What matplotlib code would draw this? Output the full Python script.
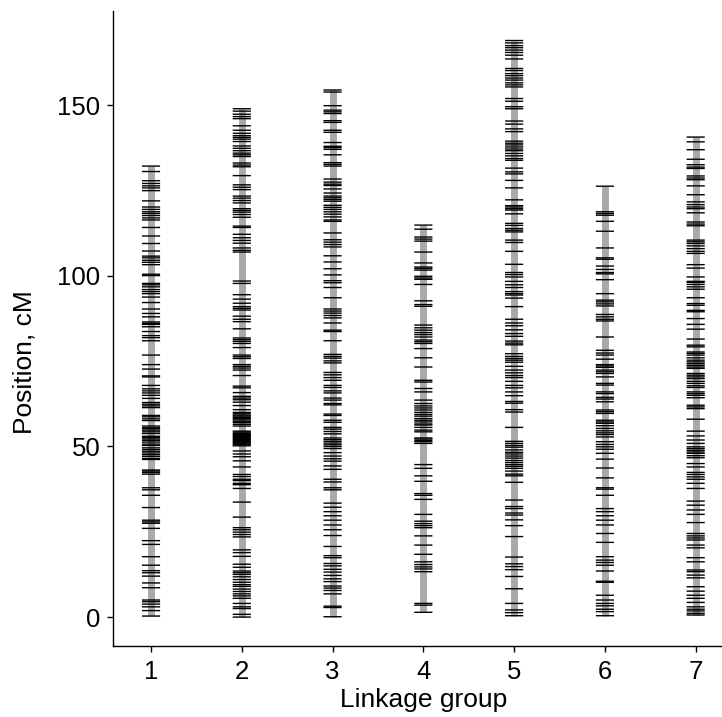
import matplotlib.pyplot as plt

plt.rcParams["font.family"] = ["Liberation Sans", "DejaVu Sans"]

GROUPS = [1, 2, 3, 4, 5, 6, 7]

# Marker positions (cM) on each linkage group
# fmt: off
LG1 = [
    132.2, 130.6, 127.9, 127.1, 126.4, 125.8, 125.0, 122.0, 120.2, 119.5, 118.8, 118.3,
    117.7, 117.0, 116.4, 114.2, 111.7, 109.5, 107.3, 105.8, 105.3, 104.6, 104.0, 103.3,
    100.5, 100.1, 97.8, 97.4, 96.8, 96.0, 95.4, 94.8, 93.8, 92.2, 90.3, 89.0, 88.0, 86.5,
    86.1, 85.8, 85.1, 83.7, 82.5, 81.9, 81.0, 76.8, 74.0, 72.7, 70.7, 70.4, 67.9, 66.9,
    66.3, 65.7, 65.0, 64.1, 62.9, 62.4, 61.9, 61.4, 59.1, 58.7, 58.1, 57.6, 56.0, 55.5,
    55.2, 54.8, 54.3, 53.8, 53.0, 52.6, 52.2, 51.8, 51.3, 50.7, 50.3, 49.6, 49.1, 48.6,
    48.1, 47.6, 47.1, 46.5, 46.2, 43.1, 42.8, 42.4, 41.9, 37.9, 37.3, 35.7, 32.1, 28.4,
    27.9, 27.5, 26.0, 22.4, 21.3, 17.7, 15.2, 13.6, 13.0, 12.0, 10.0, 8.6, 5.0, 4.5,
    3.8, 3.0, 1.9, 0.3,
]
LG2 = [
    149.0, 148.3, 147.4, 146.7, 146.1, 144.0, 142.7, 141.8, 141.1, 140.6, 140.1, 139.4,
    138.1, 137.4, 136.7, 136.0, 135.5, 135.0, 133.1, 132.5, 132.0, 129.4, 126.7, 126.0,
    125.3, 123.4, 122.8, 122.1, 121.4, 119.7, 119.2, 118.7, 118.0, 117.2, 114.6, 114.2,
    112.2, 111.2, 110.4, 109.6, 108.2, 107.5, 107.0, 98.5, 97.8, 94.5, 93.2, 92.0, 91.0,
    90.5, 90.0, 88.2, 87.3, 86.6, 84.5, 81.8, 81.3, 80.8, 80.2, 79.0, 76.8, 76.3, 75.8,
    74.0, 73.5, 73.0, 72.4, 70.8, 67.7, 67.2, 65.8, 64.7, 64.2, 63.7, 63.0, 62.0, 60.8,
    60.0, 59.6, 59.2, 58.9, 58.5, 58.2, 57.8, 57.4, 57.0, 56.5, 56.0, 54.5, 54.2, 53.8,
    53.5, 53.2, 52.9, 52.6, 52.3, 52.0, 51.7, 51.4, 51.1, 50.8, 50.5, 50.2, 48.7, 47.8,
    47.0, 45.8, 44.0, 41.8, 41.2, 40.4, 40.0, 39.2, 38.8, 37.7, 33.7, 29.3, 26.2, 25.6,
    24.9, 24.2, 23.5, 19.7, 18.9, 17.8, 15.5, 14.6, 13.5, 13.0, 12.5, 11.8, 11.0, 10.2,
    9.5, 9.0, 8.2, 7.5, 6.8, 6.2, 5.5, 4.0, 3.0, 2.5, 0.8, 0.0,
]
LG3 = [
    154.5, 153.9, 149.9, 148.6, 148.1, 147.6, 145.5, 145.0, 142.7, 142.1, 139.1, 138.0,
    137.6, 137.1, 135.5, 133.2, 132.7, 132.2, 128.4, 127.5, 126.9, 126.5, 125.5, 124.3,
    123.4, 122.9, 122.4, 121.9, 120.7, 120.1, 119.5, 118.8, 118.1, 117.3, 116.4, 116.0,
    112.6, 110.6, 109.9, 109.2, 108.5, 105.9, 104.1, 102.1, 100.3, 98.6, 98.0, 96.6,
    93.6, 90.3, 89.7, 89.1, 88.4, 87.7, 86.2, 84.1, 83.7, 81.0, 77.0, 76.4, 75.9, 75.1,
    74.5, 71.7, 71.0, 70.2, 69.4, 67.9, 67.3, 66.3, 65.7, 64.2, 63.6, 62.6, 62.2, 59.5,
    59.1, 57.7, 57.1, 55.6, 55.1, 54.4, 53.7, 52.5, 52.0, 51.5, 51.0, 50.5, 50.0, 49.4,
    48.2, 47.2, 46.4, 45.7, 44.3, 43.3, 40.4, 39.6, 37.9, 37.3, 33.4, 32.2, 30.9, 29.7,
    28.4, 27.0, 25.6, 23.9, 20.7, 18.0, 17.4, 15.7, 15.0, 14.0, 13.2, 12.2, 11.2, 10.4,
    9.1, 8.5, 7.8, 6.8, 3.2, 2.8, 0.1,
]
LG4 = [
    114.9, 113.7, 111.4, 110.8, 110.2, 107.0, 103.8, 102.6, 102.2, 101.7, 99.9, 99.4,
    99.0, 97.5, 92.7, 91.6, 91.1, 85.6, 84.8, 84.1, 83.4, 82.8, 82.1, 81.2, 80.7, 80.2,
    78.7, 76.0, 73.3, 69.4, 68.9, 67.0, 66.0, 63.6, 62.6, 61.9, 61.3, 60.7, 60.0, 59.4,
    58.9, 58.2, 57.7, 57.2, 56.6, 56.3, 55.6, 54.8, 54.3, 52.5, 52.2, 51.8, 51.4, 50.9,
    44.7, 43.6, 41.4, 39.8, 36.2, 35.7, 34.5, 30.1, 28.1, 27.4, 26.8, 26.2, 23.8, 21.1,
    18.4, 16.2, 15.4, 14.7, 14.1, 13.3, 4.0, 3.5, 1.4,
]
LG5 = [
    169.0, 168.3, 167.5, 166.9, 166.2, 165.5, 164.7, 163.6, 160.8, 160.2, 159.3, 158.7,
    158.0, 157.4, 156.6, 156.0, 155.4, 152.0, 151.2, 149.6, 149.0, 145.4, 144.5, 143.1,
    142.3, 139.5, 138.9, 138.4, 137.8, 137.2, 136.7, 135.9, 135.2, 134.4, 133.9, 131.6,
    130.5, 129.9, 128.0, 125.8, 122.3, 120.6, 120.2, 119.7, 119.3, 118.2, 115.4, 114.8,
    113.9, 113.4, 112.9, 110.5, 109.8, 107.2, 103.4, 101.0, 100.4, 99.7, 98.4, 97.4,
    96.6, 95.4, 94.8, 94.4, 93.5, 91.0, 87.3, 86.2, 85.4, 84.2, 83.1, 82.3, 80.9, 80.3,
    79.8, 77.2, 76.4, 75.8, 75.3, 74.7, 73.5, 72.4, 71.6, 70.8, 70.2, 69.1, 67.9, 67.2,
    66.0, 64.9, 63.2, 62.7, 60.8, 60.1, 55.6, 51.5, 50.9, 50.3, 49.8, 49.0, 48.3, 47.8,
    47.2, 46.6, 45.9, 45.3, 44.7, 44.2, 43.6, 42.8, 41.9, 41.4, 39.5, 34.3, 32.4, 31.8,
    30.5, 29.9, 28.5, 26.8, 23.6, 17.6, 15.6, 14.8, 13.9, 11.9, 8.3, 4.0, 2.1, 1.3, 0.4,
]
LG6 = [
    126.3, 118.8, 118.3, 117.8, 116.0, 113.1, 108.2, 105.3, 104.9, 102.9, 101.9, 101.0,
    100.6, 98.9, 94.8, 92.9, 92.4, 91.8, 91.2, 88.7, 88.0, 87.3, 86.8, 82.1, 78.2, 77.4,
    76.8, 75.6, 74.0, 73.6, 73.2, 72.4, 71.9, 71.4, 70.4, 68.5, 68.0, 66.0, 65.5, 64.4,
    63.9, 63.1, 60.7, 60.2, 59.7, 57.7, 57.2, 56.8, 56.1, 55.3, 54.6, 54.0, 53.5, 52.8,
    51.4, 50.6, 49.9, 49.2, 48.0, 46.3, 43.7, 40.8, 37.9, 37.5, 35.7, 31.8, 30.9, 29.7,
    28.4, 27.0, 24.5, 21.9, 17.7, 16.7, 16.0, 15.2, 13.5, 10.5, 10.2, 6.4, 5.0, 4.0,
    3.3, 2.3, 1.6, 0.4,
]
LG7 = [
    140.7, 139.3, 137.0, 134.2, 132.6, 131.9, 131.5, 129.3, 128.7, 128.2, 126.4, 123.8,
    121.7, 120.9, 120.2, 119.7, 118.5, 115.8, 115.2, 114.7, 110.5, 110.0, 109.5, 108.8,
    108.0, 107.2, 106.6, 103.3, 102.3, 99.7, 98.4, 98.1, 97.5, 96.8, 96.1, 93.6, 91.9,
    91.4, 89.9, 89.5, 87.5, 85.8, 84.4, 81.5, 79.7, 79.2, 77.7, 77.3, 76.8, 76.0, 75.3,
    74.8, 74.3, 73.8, 73.3, 72.9, 71.4, 70.9, 70.4, 69.9, 69.1, 68.5, 67.8, 67.3, 66.0,
    65.5, 65.0, 64.3, 62.1, 61.6, 61.1, 58.0, 54.5, 53.1, 51.9, 50.9, 49.9, 49.4, 48.9,
    48.4, 48.0, 47.3, 46.7, 45.0, 44.0, 42.4, 41.8, 41.1, 40.4, 39.2, 37.7, 34.0, 32.8,
    31.4, 30.1, 27.7, 24.5, 23.8, 23.2, 22.6, 21.1, 20.3, 17.4, 16.2, 13.8, 13.3, 12.3,
    11.5, 8.9, 7.6, 6.4, 5.5, 4.3, 3.0, 2.3, 1.8, 1.1, 0.6,
]
# fmt: on

MARKERS = [LG1, LG2, LG3, LG4, LG5, LG6, LG7]

HALF_WIDTH = 0.1

fig = plt.figure(figsize=(7.22, 7.17), dpi=100)
ax = fig.add_axes([0.157, 0.0994, 0.843, 0.885])

for lg, pos in zip(GROUPS, MARKERS):
    # grey backbone of the chromosome
    ax.vlines(lg, min(pos), max(pos), color="#a9a9a9", linewidth=5, zorder=1)
    # one black tick per marker, left unsnapped so close markers blend together
    ax.hlines(pos, lg - HALF_WIDTH, lg + HALF_WIDTH, color="black",
              linewidth=1.0, zorder=2, snap=False)

ax.set_xlim(0.585, 7.29)
ax.set_ylim(-8.4, 177.6)
ax.set_xticks(GROUPS)
ax.set_yticks([0, 50, 100, 150])

for side in ["top", "right"]:
    ax.spines[side].set_visible(False)
for side in ["left", "bottom"]:
    ax.spines[side].set_linewidth(1.0)
ax.tick_params(axis="both", length=4.3, width=1.0, labelsize=18.5, pad=5)
ax.tick_params(axis="x", pad=6)

ax.set_xlabel("Linkage group", fontsize=19)
ax.set_ylabel("Position, cM", fontsize=19)
ax.xaxis.set_label_coords(0.509, -0.066)
ax.yaxis.set_label_coords(-0.126, 0.447)

plt.savefig("out.png", dpi=100)
